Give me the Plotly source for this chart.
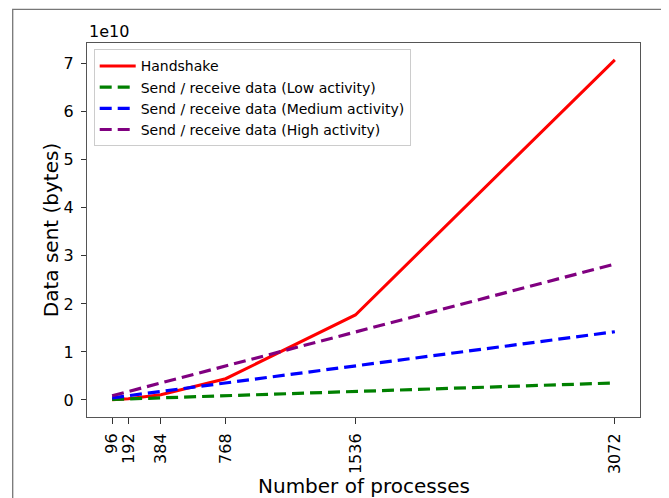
import plotly.graph_objects as go

processes = [96, 192, 384, 768, 1536, 3072]
tick_labels = ["96", "192", "384", "768", "1536", "3072"]
handshake = [0.0069e10, 0.0277e10, 0.111e10, 0.443e10, 1.77e10, 7.08e10]
low_activity = [0.0111e10, 0.0222e10, 0.0444e10, 0.0888e10, 0.1775e10, 0.355e10]
medium_activity = [0.0444e10, 0.0888e10, 0.1775e10, 0.355e10, 0.71e10, 1.42e10]
high_activity = [0.0884e10, 0.177e10, 0.354e10, 0.708e10, 1.415e10, 2.83e10]
y_ticks = [0, 1e10, 2e10, 3e10, 4e10, 5e10, 6e10, 7e10]
y_tick_labels = ["0", "1", "2", "3", "4", "5", "6", "7"]

FONT = "DejaVu Sans"
OFF = 8  # page body margin
W, H = 669 - OFF, 498 - OFF
L, R, T, B = 87.3 - OFF, 640.3 - OFF, 42.7 - OFF, 416.7 - OFF

fig = go.Figure()
fig.add_trace(go.Scatter(x=processes, y=handshake, mode="lines", name="Handshake",
                         line=dict(color="#ff0000", width=3)))
fig.add_trace(go.Scatter(x=processes, y=low_activity, mode="lines",
                         name="Send / receive data (Low activity)",
                         line=dict(color="#008000", width=3.2, dash="12px,6px")))
fig.add_trace(go.Scatter(x=processes, y=medium_activity, mode="lines",
                         name="Send / receive data (Medium activity)",
                         line=dict(color="#0000ff", width=3.2, dash="12px,6px")))
fig.add_trace(go.Scatter(x=processes, y=high_activity, mode="lines",
                         name="Send / receive data (High activity)",
                         line=dict(color="#800080", width=3.2, dash="12px,6px")))

pw = R - L
ph = B - T

fig.update_layout(
    width=W, height=H,
    margin=dict(l=L, r=W - R, t=T, b=H - B, pad=0),
    paper_bgcolor="white", plot_bgcolor="white",
    font=dict(family=FONT, size=14, color="black"),
    showlegend=True,
    legend=dict(x=(94 - OFF - L) / pw, y=(B - (49 - OFF)) / ph, xanchor="left", yanchor="top",
                bgcolor="white", bordercolor="#cccccc", borderwidth=1,
                font=dict(family=FONT, size=14), itemwidth=36,
                tracegroupgap=0),
    xaxis=dict(range=[-52.8, 3220.8], tickvals=processes, ticktext=tick_labels,
               tickangle=-90, ticks="outside", ticklen=6, tickwidth=1, tickcolor="#333",
               ticklabelstandoff=3,
               showline=True, linecolor="#555", linewidth=1, mirror=True,
               showgrid=False, zeroline=False,
               tickfont=dict(size=16, family=FONT)),
    yaxis=dict(range=[-0.354e10, 7.43e10], tickvals=y_ticks, ticktext=y_tick_labels,
               ticks="outside", ticklen=5, tickwidth=1, tickcolor="#333",
               ticklabelstandoff=4,
               showline=True, linecolor="#555", linewidth=1, mirror=True,
               showgrid=False, zeroline=False,
               tickfont=dict(size=16, family=FONT)),
)

# axis titles placed as annotations for exact positioning
fig.add_annotation(text="Number of processes", xref="paper", yref="paper",
                   x=0.5, y=(B - (473.0 - OFF)) / ph, xanchor="center", yanchor="top",
                   showarrow=False, borderpad=0, font=dict(size=20, family=FONT))
fig.add_annotation(text="Data sent (bytes)", xref="paper", yref="paper",
                   x=(51.5 - OFF - L) / pw, y=0.5, xanchor="center", yanchor="middle",
                   textangle=-90, showarrow=False, borderpad=0,
                   font=dict(size=20, family=FONT))

fig.add_annotation(text="1e10", xref="paper", yref="paper", x=0, y=1,
                   xanchor="left", yanchor="bottom", yshift=0, showarrow=False,
                   font=dict(size=16, family=FONT))

fig.add_shape(type="rect", xref="paper", yref="paper",
              x0=(13 - OFF - L) / pw, x1=(667 - OFF - L) / pw,
              y0=(B - (502 - OFF)) / ph, y1=(B - (9 - OFF)) / ph,
              line=dict(color="#777", width=1.3), fillcolor="rgba(0,0,0,0)", layer="below")

fig.write_html("out.html")
